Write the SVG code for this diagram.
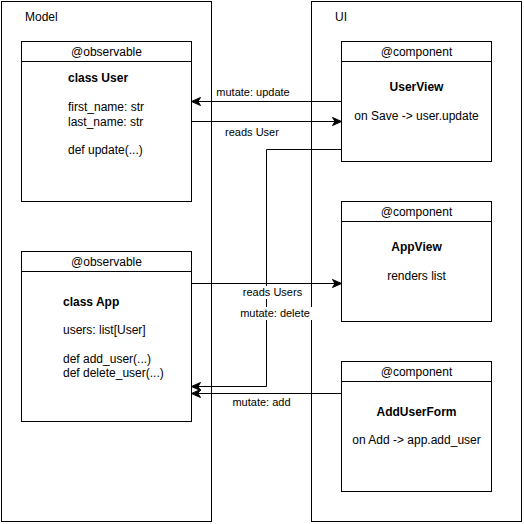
<svg xmlns="http://www.w3.org/2000/svg" width="524" height="524" viewBox="0 0 524 524">
<style>
.box{fill:#fff;stroke:#000;stroke-width:1}
.frame{fill:none;stroke:#000;stroke-width:1}
.t{font-family:"Liberation Sans",Arial,Helvetica,sans-serif;font-size:12px;fill:#000}
.c{text-anchor:middle}
.b{font-weight:bold}
.lbl{font-family:"Liberation Sans",Arial,Helvetica,sans-serif;font-size:11px;fill:#000;text-anchor:middle}
.edge{fill:none;stroke:#000;stroke-width:1}
</style>
<defs>
<marker id="arr" markerUnits="userSpaceOnUse" markerWidth="12" markerHeight="10" viewBox="-10 -5 12 10" refX="0" refY="0" orient="auto">
<path d="M0,0 L-9,-4 L-6.5,0 L-9,4 Z" fill="#000" stroke="#000" stroke-width="1"/>
</marker>
</defs>
<rect width="524" height="524" fill="#fff"/>
<g id="model">
<rect class="frame" x="1.5" y="1.5" width="210" height="520"/>
<text class="t" x="25" y="21">Model</text>
</g>
<g id="ui">
<rect class="frame" x="311.5" y="1.5" width="210" height="520"/>
<text class="t" x="335" y="21">UI</text>
</g>
<g id="user">
<rect class="box" x="21.5" y="41.5" width="170" height="160"/>
<line class="edge" x1="21.5" y1="61.5" x2="191.5" y2="61.5"/>
<text class="t c" x="106.5" y="56">@observable</text>
<text class="t b" x="68" y="82">class User</text>
<text class="t" x="68" y="111">first_name: str</text>
<text class="t" x="68" y="125.5">last_name: str</text>
<text class="t" x="68" y="154">def update(...)</text>
</g>
<g id="app">
<rect class="box" x="21.5" y="251.5" width="170" height="170"/>
<line class="edge" x1="21.5" y1="271.5" x2="191.5" y2="271.5"/>
<text class="t c" x="106.5" y="266">@observable</text>
<text class="t b" x="63" y="306">class App</text>
<text class="t" x="63" y="334">users: list[User]</text>
<text class="t" x="63" y="362.5">def add_user(...)</text>
<text class="t" x="63" y="376.5">def delete_user(...)</text>
</g>
<g id="userview">
<rect class="box" x="341.5" y="41.5" width="150" height="120"/>
<line class="edge" x1="341.5" y1="61.5" x2="491.5" y2="61.5"/>
<text class="t c" x="416.5" y="56">@component</text>
<text class="t c b" x="416.5" y="91">UserView</text>
<text class="t c" x="416.5" y="120">on Save -&gt; user.update</text>
</g>
<g id="appview">
<rect class="box" x="341.5" y="201.5" width="150" height="120"/>
<line class="edge" x1="341.5" y1="221.5" x2="491.5" y2="221.5"/>
<text class="t c" x="416.5" y="216">@component</text>
<text class="t c b" x="416.5" y="251">AppView</text>
<text class="t c" x="416.5" y="280">renders list</text>
</g>
<g id="adduserform">
<rect class="box" x="341.5" y="361.5" width="150" height="130"/>
<line class="edge" x1="341.5" y1="381.5" x2="491.5" y2="381.5"/>
<text class="t c" x="416.5" y="376">@component</text>
<text class="t c b" x="416.5" y="416">AddUserForm</text>
<text class="t c" x="416.5" y="444">on Add -&gt; app.add_user</text>
</g>
<g id="connectors">
<path class="edge" d="M341.5,101.5 H191.5" marker-end="url(#arr)"/>
<text class="lbl" x="253" y="96">mutate: update</text>
<path class="edge" d="M191.5,121.5 H341.5" marker-end="url(#arr)"/>
<text class="lbl" x="252" y="135.5">reads User</text>
<path class="edge" d="M341.5,149.5 H266.5 V386.5 H191.5" marker-end="url(#arr)"/>
<path class="edge" d="M191.5,283.5 H341.5" marker-end="url(#arr)"/>
<rect x="242" y="286" width="61" height="13" fill="#fff"/>
<text class="lbl" x="272.5" y="296">reads Users</text>
<rect x="238" y="307" width="74" height="13" fill="#fff"/>
<text class="lbl" x="275" y="317">mutate: delete</text>
<path class="edge" d="M341.5,393.5 H191.5" marker-end="url(#arr)"/>
<text class="lbl" x="261.5" y="406">mutate: add</text>
</g>
</svg>
